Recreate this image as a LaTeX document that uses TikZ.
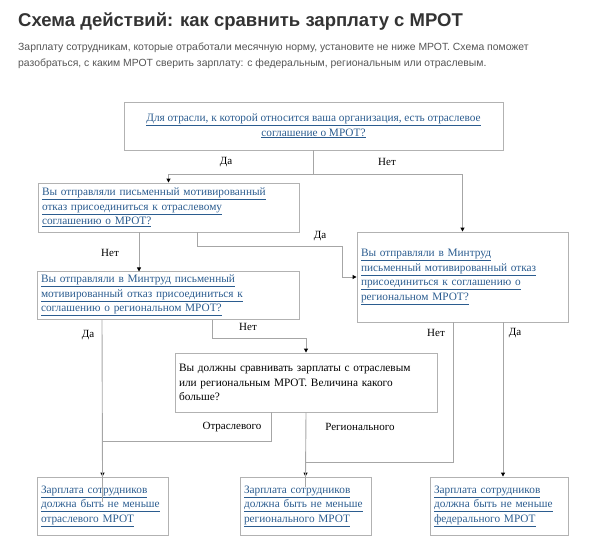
\documentclass[tikz,border=0pt]{standalone}
\usepackage{fontspec}
\setmainfont{Liberation Serif}
\newfontfamily\hf{Liberation Sans}
\usetikzlibrary{arrows.meta,calc}
\definecolor{lnk}{HTML}{2B5C8F}
\definecolor{ttl}{HTML}{333333}
\definecolor{sub}{HTML}{555555}
\newcommand\lk[1]{\underline{#1}}
\begin{document}
\begin{tikzpicture}[x=1pt,y=-1pt,
  box/.style={draw=black!30,line width=0.9pt,inner sep=3pt,font=\fontsize{11.3}{14.5}\selectfont},
  lbox/.style={box,align=left,text=lnk},
  ln/.style={draw=black!35,line width=0.9pt},
  arr/.style={ln,-{Triangle[width=4pt,length=4pt,fill=black,color=black]}},
  lab/.style={font=\fontsize{11}{13}\selectfont,inner sep=0pt}]
\useasboundingbox (0,0) rectangle (604,549);
\node[anchor=west,font=\hf\bfseries\fontsize{18.5}{22}\selectfont,text=ttl,inner sep=0pt] (title) at (18,22) {Схема действий: как сравнить зарплату с МРОТ};
\node[anchor=north west,align=left,font=\hf\fontsize{10.4}{15.5}\selectfont,text=sub,inner sep=0pt] (subt) at (18,43) {Зарплату сотрудникам, которые отработали месячную норму, установите не ниже МРОТ. Схема поможет\\разобраться, с каким МРОТ сверить зарплату: с федеральным, региональным или отраслевым.};

\node[box,align=center,text=lnk,minimum width=379,minimum height=48] (top) at (313.5,126) {\lk{Для отрасли, к которой относится ваша организация, есть отраслевое}\\\lk{соглашение о МРОТ?}};
\node[lbox,minimum width=261,minimum height=49,text width=253] (A) at (168.5,207.5) {\lk{Вы отправляли письменный мотивированный}\\\lk{отказ присоединиться к отраслевому}\\\lk{соглашению о МРОТ?}};
\node[lbox,minimum width=262,minimum height=47,text width=254] (B) at (168,295.5) {\lk{Вы отправляли в Минтруд письменный}\\\lk{мотивированный отказ присоединиться к}\\\lk{соглашению о региональном МРОТ?}};
\node[lbox,minimum width=211,minimum height=90,text width=203] (C) at (462.5,277) {\lk{Вы отправляли в Минтруд}\\\lk{письменный мотивированный отказ}\\\lk{присоединиться к соглашению о}\\\lk{региональном МРОТ?}};
\node[box,align=left,minimum width=262,minimum height=59,text width=254] (D) at (306,382.5) {Вы должны сравнивать зарплаты с отраслевым\\или региональным МРОТ. Величина какого\\больше?};
\node[lbox,minimum width=131,minimum height=58,text width=123] (E) at (102.5,506) {\lk{Зарплата сотрудников}\\\lk{должна быть не меньше}\\\lk{отраслевого МРОТ}};
\node[lbox,minimum width=131,minimum height=58,text width=123] (F) at (305.5,506) {\lk{Зарплата сотрудников}\\\lk{должна быть не меньше}\\\lk{регионального МРОТ}};
\node[lbox,minimum width=138,minimum height=58,text width=130] (G) at (499,506) {\lk{Зарплата сотрудников}\\\lk{должна быть не меньше}\\\lk{федерального МРОТ}};

\draw[arr] (top.south) -- ++(0,24) -| (A.north);
\draw[arr] (top.south) -- ++(0,24) -| (C.north);
\draw[arr] ([xshift=28.5]A.south) -- ++(0,14) -| ($(C.west)+(-14,0)$) -- (C.west);
\draw[arr] ([xshift=-29.5]A.south) -- ([xshift=-29]B.north);
\draw[arr] ([xshift=-66]B.south) -- (E.north);
\draw[arr] ([xshift=44]B.south) -- ++(0,19) -| (D.north);
\draw[ln] ([xshift=-35]D.south) -- ++(0,29) -| ([yshift=-25]E.north);
\draw[arr] (D.south) -- (F.north);
\draw[ln] ([xshift=-9.5]C.south) -- ++(0,140) -| ([yshift=-10]F.north);
\draw[arr] ([xshift=40.5]C.south) -- ([xshift=4]G.north);

\node[lab] (l1) at (226,162) {Да};
\node[lab] (l2) at (387,162) {Нет};
\node[lab] (l3) at (320,236) {Да};
\node[lab] (l4) at (110,253) {Нет};
\node[lab] (l5) at (88,335) {Да};
\node[lab] (l6) at (248,327) {Нет};
\node[lab] (l7) at (436,333) {Нет};
\node[lab] (l8) at (515,333) {Да};
\node[lab] (l9) at (232,427) {Отраслевого};
\node[lab] (l10) at (360,427) {Регионального};
\end{tikzpicture}
\end{document}
